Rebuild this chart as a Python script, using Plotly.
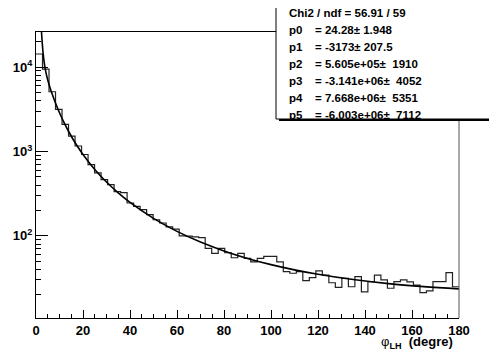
import plotly.graph_objects as go

# histogram: 65 bins over 0-180 degrees
n_bins = 65
x_min, x_max = 0.0, 180.0
counts = [14300, 9470, 5100, 3150, 2090, 1520, 1160, 920, 700, 557,
          464, 405, 335, 325, 245, 223, 204, 178, 155, 142,
          128, 120, 100, 99, 97, 95, 71, 62, 71, 63,
          55, 62, 54, 49, 54, 57, 57, 49, 37.6, 36,
          37.6, 29.5, 32, 38.5, 34.3, 27.8, 24.5, 31.3, 24.9, 32.8,
          21.7, 28.7, 34.3, 30, 23.9, 28.7, 30, 28.5, 26, 21.2,
          22.2, 28.7, 28.7, 36.6, 24.9]

# fitted curve
fit_x = [2.0, 2.25, 2.5, 2.75, 3, 3.5, 4, 5, 6, 7, 8, 10, 12, 14, 17, 20, 25, 30,
         35, 40, 50, 60, 70, 80, 90, 100, 110, 120, 135, 150, 165, 180]
fit_y = [37594, 28668, 22241, 17859, 14875, 11283, 9275, 7030, 5667, 4690, 3940,
         2878, 2180, 1701, 1225, 920, 612, 434, 323, 249, 161, 113, 84.5, 66.3,
         54.0, 45.6, 39.5, 35.0, 30.3, 27.1, 25.0, 23.5]

stats_rows = [("p0", "= 24.28\u00b1 1.948"),
              ("p1", "= -3173\u00b1 207.5"),
              ("p2", "= 5.605e+05\u00b1\u00a0 1910"),
              ("p3", "= -3.141e+06\u00b1\u00a0 4052"),
              ("p4", "= 7.668e+06\u00b1\u00a0 5351"),
              ("p5", "= -6.003e+06\u00b1\u00a0 7112")]

width = (x_max - x_min) / n_bins
edges = [x_min + i * width for i in range(n_bins + 1)]

# the page body adds an 8px margin, so the figure is shrunk by that much
OFF = 8
W, H = 497 - OFF, 356 - OFF
L, R, T, B = 36 - OFF, 38, 32 - OFF, 38
pw, ph = W - L - R, H - T - B


def px(x):
    # page pixel -> paper coordinate
    return (x - OFF - L) / pw


def py(y):
    return (OFF + T + ph - y) / ph


bold = dict(family="Liberation Sans, Arial", weight="bold", color="black")

fig = go.Figure()
fig.add_trace(go.Scatter(x=edges, y=counts + [counts[-1]], mode="lines",
                         line=dict(shape="hv", color="#222222", width=1.2),
                         hoverinfo="skip"))
fig.add_trace(go.Scatter(x=fit_x, y=fit_y, mode="lines",
                         line=dict(shape="spline", color="black", width=1.6),
                         hoverinfo="skip"))

fig.update_xaxes(range=[0, 180], showgrid=False, zeroline=False, automargin=False,
                 showline=True, linecolor="black", linewidth=1, mirror=True,
                 ticks="inside", ticklen=8, tickcolor="black",
                 tickvals=list(range(0, 181, 20)),
                 tickfont=dict(size=13, **bold),
                 minor=dict(ticks="inside", ticklen=4, tickcolor="black",
                            tickvals=[v for v in range(5, 180, 5) if v % 20]))

minor_y = [m * 10 ** k for k in (1, 2, 3) for m in range(2, 10)] + [20000]
fig.update_yaxes(type="log", range=[1.026, 4.416], showgrid=False, zeroline=False,
                 automargin=False,
                 showline=True, linecolor="black", linewidth=1, mirror=False,
                 ticks="inside", ticklen=12, tickcolor="black",
                 tickvals=[100, 1000, 10000],
                 ticktext=["10<sup>2</sup>", "10<sup>3</sup>", "10<sup>4</sup>"],
                 tickfont=dict(size=13, **bold),
                 minor=dict(ticks="inside", ticklen=5, tickcolor="black",
                            tickvals=minor_y))

shapes = [
    # right frame edge
    dict(type="line", xref="paper", yref="paper", x0=1, x1=1, y0=0, y1=1,
         line=dict(color="#555555", width=1)),
    # stats box shadow + box
    dict(type="rect", xref="paper", yref="paper", x0=px(279), x1=px(505),
         y0=py(121), y1=py(6), fillcolor="black", line=dict(width=0)),
    dict(type="rect", xref="paper", yref="paper", x0=px(276), x1=px(502),
         y0=py(119), y1=py(3), fillcolor="white",
         line=dict(color="black", width=1)),
]

annotations = [dict(xref="paper", yref="paper", x=px(287), y=py(13),
                    text="Chi2 / ndf = 56.91 / 59", showarrow=False,
                    xanchor="left", yanchor="middle", font=dict(size=11.5, **bold))]
for i, (name, val) in enumerate(stats_rows):
    yy = py(30 + i * 17)
    annotations.append(dict(xref="paper", yref="paper", x=px(287), y=yy, text=name,
                            showarrow=False, xanchor="left", yanchor="middle",
                            font=dict(size=11.5, **bold)))
    annotations.append(dict(xref="paper", yref="paper", x=px(313), y=yy, text=val,
                            showarrow=False, xanchor="left", yanchor="middle",
                            font=dict(size=11.5, **bold)))

annotations.append(dict(xref="paper", yref="paper", x=px(455), y=py(342),
                        text="<span style='font-weight:normal'>\u03c6</span><sub>LH</sub>\u00a0 (degre)",
                        showarrow=False, xanchor="right", yanchor="middle",
                        font=dict(size=13, **bold)))

fig.update_layout(width=W, height=H, margin=dict(l=L, r=R, t=T, b=B),
                  paper_bgcolor="white", plot_bgcolor="white", showlegend=False,
                  shapes=shapes, annotations=annotations)

fig.write_html("out.html")
